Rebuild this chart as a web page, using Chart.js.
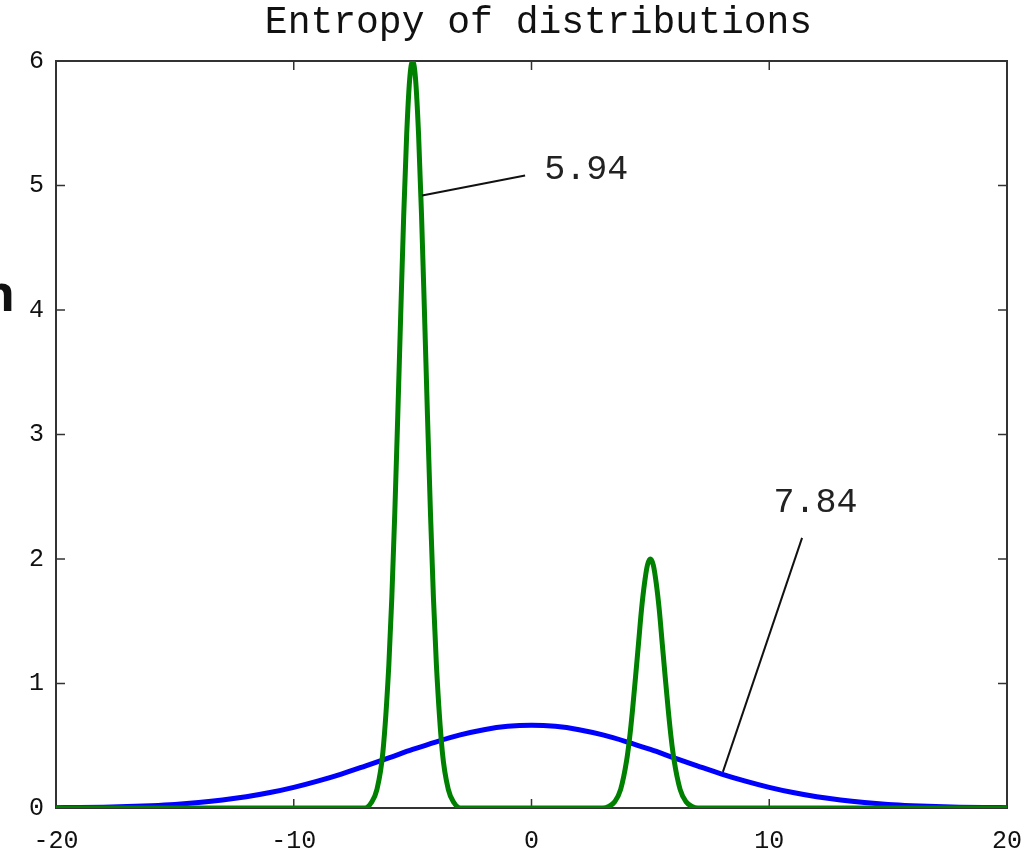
<!DOCTYPE html>
<html>
<head>
<meta charset="utf-8">
<title>Entropy of distributions</title>
<script src="https://cdn.jsdelivr.net/npm/chart.js@4.4.0/dist/chart.umd.min.js"></script>
<style>
  html, body { margin: 0; padding: 0; background: #fff; }
  canvas { display: block; }
</style>
</head>
<body>
<canvas id="myChart" width="1033" height="856"></canvas>
<script>
// two-peak mixture (green)
const greenX = [-20,
  -7, -6.75, -6.5, -6.25, -6, -5.875, -5.75, -5.625, -5.5, -5.375, -5.25, -5.125,
  -5, -4.875, -4.75, -4.625, -4.5, -4.375, -4.25, -4.125, -4, -3.75, -3.5, -3.25, -3,
  3, 3.25, 3.5, 3.75, 4, 4.125, 4.25, 4.375, 4.5, 4.625, 4.75, 4.875,
  5, 5.125, 5.25, 5.375, 5.5, 5.625, 5.75, 5.875, 6, 6.25, 6.5, 6.75, 7,
  20];
const greenY = [0,
  0, 0.04, 0.15, 0.45, 1.15, 1.69, 2.37, 3.15, 3.97, 4.76, 5.41, 5.85,
  6.0, 5.85, 5.41, 4.76, 3.97, 3.15, 2.37, 1.69, 1.15, 0.45, 0.15, 0.04, 0,
  0, 0.013, 0.05, 0.15, 0.38, 0.56, 0.79, 1.05, 1.32, 1.59, 1.80, 1.95,
  2.0, 1.95, 1.80, 1.59, 1.32, 1.05, 0.79, 0.56, 0.38, 0.15, 0.05, 0.013, 0,
  0];

// broad single bump (blue)
const blueX = [-20, -19, -18, -17, -16, -15, -14, -13, -12, -11, -10, -9, -8, -7, -6, -5, -4, -3, -2, -1,
  0, 1, 2, 3, 4, 5, 6, 7, 8, 9, 10, 11, 12, 13, 14, 15, 16, 17, 18, 19, 20];
const blueY = [0.003, 0.004, 0.007, 0.012, 0.019, 0.029, 0.044, 0.064, 0.090, 0.124, 0.166, 0.216, 0.273, 0.337, 0.403, 0.470, 0.532, 0.587, 0.629, 0.656,
  0.665, 0.656, 0.629, 0.587, 0.532, 0.470, 0.403, 0.337, 0.273, 0.216, 0.166, 0.124, 0.090, 0.064, 0.044, 0.029, 0.019, 0.012, 0.007, 0.004, 0.003];

const xTicks = [-20, -10, 0, 10, 20];
const yTicks = [0, 1, 2, 3, 4, 5, 6];

// entropy labels: text, label position, leader line start and end (data units)
const labels = [
  { text: '5.94', at: [2.3, 5.13], from: [-0.27, 5.08], to: [-4.6, 4.92] },
  { text: '7.84', at: [11.95, 2.45], from: [11.38, 2.17], to: [8.05, 0.29] }
];

const titleText = 'Entropy of distributions';
const mono = '"Liberation Mono", "DejaVu Sans Mono", monospace';

function toPoints(xs, ys) {
  return xs.map((x, i) => ({ x: x, y: ys[i] }));
}

const decorations = {
  id: 'decorations',
  beforeDraw(chart) {
    const ctx = chart.ctx;
    const area = chart.chartArea;
    ctx.save();
    ctx.fillStyle = '#111';
    ctx.font = '38px ' + mono;
    ctx.textAlign = 'center';
    ctx.textBaseline = 'middle';
    ctx.fillText(titleText, (area.left + area.right) / 2 + 7, 23);
    // clipped word from the neighbouring slide
    ctx.font = 'bold 50px "Open Sans", "Noto Sans", sans-serif';
    ctx.textAlign = 'right';
    ctx.textBaseline = 'alphabetic';
    ctx.fillText('n', 15, 311);
    ctx.restore();
  },
  beforeDatasetsDraw(chart) {
    const ctx = chart.ctx;
    const area = chart.chartArea;
    const xs = chart.scales.x;
    const ys = chart.scales.y;
    ctx.save();
    ctx.strokeStyle = '#333';
    ctx.lineWidth = 2;
    ctx.strokeRect(area.left, area.top, area.right - area.left, area.bottom - area.top);
    ctx.lineWidth = 1.5;
    ctx.beginPath();
    xTicks.slice(1, -1).forEach(v => {
      const px = xs.getPixelForValue(v);
      ctx.moveTo(px, area.bottom);
      ctx.lineTo(px, area.bottom - 9);
      ctx.moveTo(px, area.top);
      ctx.lineTo(px, area.top + 9);
    });
    yTicks.slice(1, -1).forEach(v => {
      const py = ys.getPixelForValue(v);
      ctx.moveTo(area.left, py);
      ctx.lineTo(area.left + 9, py);
      ctx.moveTo(area.right, py);
      ctx.lineTo(area.right - 9, py);
    });
    ctx.stroke();
    ctx.restore();
  },
  afterDatasetsDraw(chart) {
    const ctx = chart.ctx;
    const xs = chart.scales.x;
    const ys = chart.scales.y;
    ctx.save();
    ctx.strokeStyle = '#111';
    ctx.fillStyle = '#222';
    ctx.lineWidth = 2;
    ctx.font = '35px ' + mono;
    ctx.textAlign = 'center';
    ctx.textBaseline = 'middle';
    labels.forEach(l => {
      ctx.beginPath();
      ctx.moveTo(xs.getPixelForValue(l.from[0]), ys.getPixelForValue(l.from[1]));
      ctx.lineTo(xs.getPixelForValue(l.to[0]), ys.getPixelForValue(l.to[1]));
      ctx.stroke();
      ctx.fillText(l.text, xs.getPixelForValue(l.at[0]), ys.getPixelForValue(l.at[1]));
    });
    ctx.restore();
  }
};

const ctx = document.getElementById('myChart').getContext('2d');
const chart = new Chart(ctx, {
  type: 'line',
  data: {
    datasets: [{
      label: 'mixture',
      data: toPoints(greenX, greenY),
      borderColor: 'rgb(0, 128, 0)',
      borderWidth: 5,
      pointRadius: 0,
      cubicInterpolationMode: 'monotone',
      fill: false
    }, {
      label: 'gaussian',
      data: toPoints(blueX, blueY),
      borderColor: 'rgb(0, 0, 255)',
      borderWidth: 5,
      pointRadius: 0,
      cubicInterpolationMode: 'monotone',
      fill: false
    }]
  },
  options: {
    responsive: false,
    animation: false,
    layout: { padding: { top: 61, right: 26, bottom: 0, left: 0 } },
    plugins: {
      legend: { display: false },
      title: { display: false },
      tooltip: { enabled: false }
    },
    scales: {
      x: {
        type: 'linear',
        min: -20,
        max: 20,
        afterFit(scale) { scale.height = 48; },
        afterBuildTicks(scale) { scale.ticks = xTicks.map(v => ({ value: v })); },
        grid: { display: false },
        border: { display: false },
        ticks: {
          color: '#111',
          padding: 10,
          maxRotation: 0,
          font: { family: mono, size: 25 }
        }
      },
      y: {
        type: 'linear',
        min: 0,
        max: 6,
        afterFit(scale) { scale.width = 56; },
        afterBuildTicks(scale) { scale.ticks = yTicks.map(v => ({ value: v })); },
        grid: { display: false },
        border: { display: false },
        ticks: {
          color: '#111',
          padding: 4,
          font: { family: mono, size: 25 }
        }
      }
    }
  },
  plugins: [decorations]
});
</script>
</body>
</html>
